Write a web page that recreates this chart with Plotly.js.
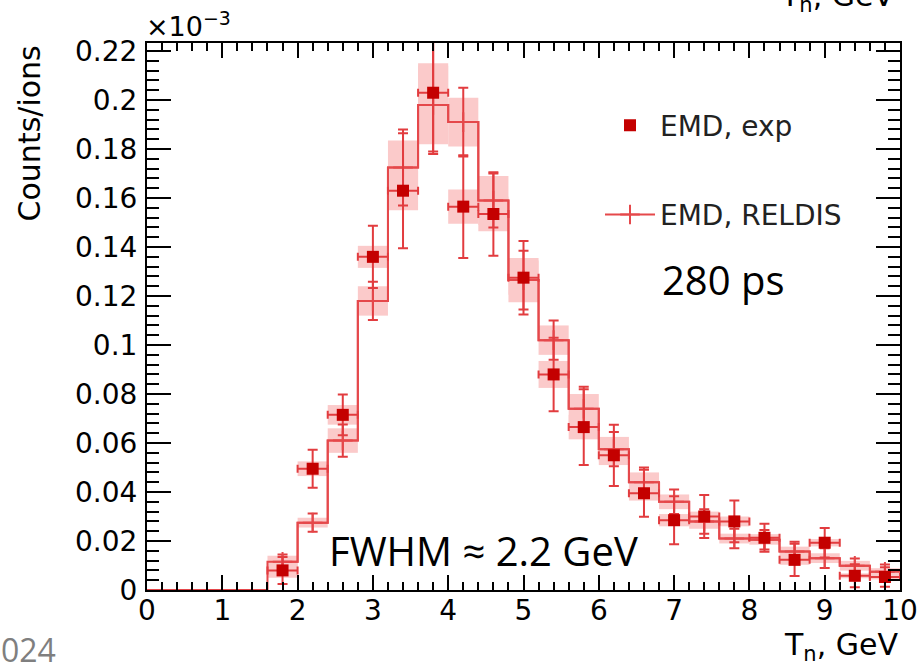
<!DOCTYPE html>
<html>
<head>
<meta charset="utf-8">
<script src="https://cdn.plot.ly/plotly-3.0.1.min.js"></script>
<style>html,body{margin:0;padding:0;background:#fff;}#chart{width:919px;height:665px;}</style>
</head>
<body>
<div id="chart"></div>
<script>
// ---- data (units of 10^-3 counts/ion) ----
const binCenters = [1.8, 2.2, 2.6, 3.0, 3.4, 3.8, 4.2, 4.6, 5.0, 5.4, 5.8, 6.2, 6.6, 7.0, 7.4, 7.8, 8.2, 8.6, 9.0, 9.4, 9.8];
const binEdges = [0, 1.6, 2.0, 2.4, 2.8, 3.2, 3.6, 4.0, 4.4, 4.8, 5.2, 5.6, 6.0, 6.4, 6.8, 7.2, 7.6, 8.0, 8.4, 8.8, 9.2, 9.6, 10];
const binHalfWidth = 0.2;

const expVals = [0.008, 0.0495, 0.0715, 0.136, 0.163, 0.203, 0.1565, 0.1535, 0.1275, 0.088, 0.0665, 0.055, 0.0395, 0.0285, 0.030, 0.028, 0.0213, 0.0123, 0.0193, 0.0058, 0.0053];
const expErr  = [0.0055, 0.0078, 0.0083, 0.0127, 0.0235, 0.024, 0.021, 0.017, 0.015, 0.015, 0.0155, 0.0125, 0.0096, 0.0098, 0.0088, 0.0085, 0.0057, 0.0066, 0.006, 0.0047, 0.004];
const expSys  = [0.003, 0.003, 0.004, 0.0045, 0.008, 0.012, 0.007, 0.007, 0.007, 0.0055, 0.005, 0.004, 0.003, 0.0025, 0.002, 0.002, 0.0015, 0.002, 0.0015, 0.001, 0.001];

const relVals = [0.0115, 0.0275, 0.061, 0.118, 0.1725, 0.198, 0.191, 0.159, 0.1265, 0.102, 0.074, 0.0575, 0.044, 0.036, 0.028, 0.021, 0.0205, 0.0157, 0.013, 0.0099, 0.0074];
const relErrUp   = [0.003, 0.0037, 0.0066, 0.0078, 0.0155, 0.030, 0.014, 0.011, 0.012, 0.008, 0.009, 0.007, 0.006, 0.005, 0.005, 0.004, 0.004, 0.004, 0.004, 0.003, 0.003];
const relErrDown = [0.003, 0.0037, 0.0066, 0.0078, 0.0155, 0.020, 0.014, 0.011, 0.012, 0.008, 0.009, 0.007, 0.006, 0.005, 0.005, 0.004, 0.004, 0.004, 0.004, 0.003, 0.003];
const relSys  = [0.0025, 0.002, 0.005, 0.006, 0.011, 0.016, 0.010, 0.010, 0.009, 0.006, 0.006, 0.005, 0.004, 0.003, 0.003, 0.002, 0.002, 0.002, 0.002, 0.002, 0.0015];

const xTickVals = [0, 1, 2, 3, 4, 5, 6, 7, 8, 9, 10];
const xTickText = ['0', '1', '2', '3', '4', '5', '6', '7', '8', '9', '10'];
const yTickVals = [0, 0.02, 0.04, 0.06, 0.08, 0.1, 0.12, 0.14, 0.16, 0.18, 0.2, 0.22];
const yTickText = ['0', '0.02', '0.04', '0.06', '0.08', '0.1', '0.12', '0.14', '0.16', '0.18', '0.2', '0.22'];

// ---- styles ----
const rootFont = 'DejaVu Sans, Liberation Sans, Arial, sans-serif';
const slideFont = 'Open Sans, Noto Sans, sans-serif';
const boxColor = '#fbcaca';
const relColor = '#e5484b';
const errColor = '#e23c3f';
const expColor = '#c40000';

const stepY = [0].concat(relVals).concat([relVals[relVals.length - 1]]);

const traces = [
  { type: 'bar', x: binCenters, y: relSys.map(s => 2 * s), base: relVals.map((v, i) => v - relSys[i]),
    width: 2 * binHalfWidth, marker: { color: boxColor, line: { width: 0 } }, showlegend: false, hoverinfo: 'skip' },
  { type: 'bar', x: binCenters, y: expSys.map(s => 2 * s), base: expVals.map((v, i) => v - expSys[i]),
    width: 2 * binHalfWidth, marker: { color: boxColor, line: { width: 0 } }, showlegend: false, hoverinfo: 'skip' },
  { type: 'scatter', mode: 'lines', x: binEdges, y: stepY, line: { shape: 'hv', color: relColor, width: 2 },
    showlegend: false, hoverinfo: 'skip' },
  { type: 'scatter', mode: 'lines+markers', name: 'EMD, RELDIS', x: binCenters, y: relVals,
    line: { shape: 'hvh', color: relColor, width: 2 },
    marker: { symbol: 'cross-thin-open', size: 14, color: relColor, line: { color: relColor, width: 2 } },
    error_y: { type: 'data', array: relErrUp, arrayminus: relErrDown, symmetric: false, visible: true,
      color: errColor, thickness: 2, width: 5 },
    legendgroup: 'rel', legendrank: 2 },
  { type: 'scatter', mode: 'markers', name: 'EMD, exp', x: binCenters, y: expVals,
    marker: { symbol: 'square', size: 12, color: expColor },
    error_y: { type: 'data', array: expErr, visible: true, color: errColor, thickness: 2, width: 5 },
    error_x: { type: 'constant', value: binHalfWidth, visible: true, color: errColor, thickness: 2, width: 4 },
    legendgroup: 'exp', legendrank: 1 }
];

const axisCommon = {
  showgrid: false, zeroline: false, showline: true, linecolor: '#000', linewidth: 2,
  mirror: 'allticks', ticks: 'inside', tickcolor: '#000', tickwidth: 2,
  tickfont: { family: rootFont, size: 28, color: '#000' }
};

const layout = {
  width: 919, height: 665,
  margin: { l: 147, r: 19, t: 43, b: 75, pad: 0 },
  paper_bgcolor: '#fff', plot_bgcolor: '#fff',
  barmode: 'overlay',
  showlegend: true,
  legend: { x: 0.6016, xanchor: 'left', y: 0.895, yanchor: 'top', bgcolor: 'rgba(0,0,0,0)',
    font: { family: rootFont, size: 28, color: '#222' }, itemwidth: 50, tracegroupgap: 50,
    traceorder: 'grouped' },
  xaxis: Object.assign({}, axisCommon, {
    range: [0, 10], tickmode: 'array', tickvals: xTickVals, ticktext: xTickText, ticklen: 15,
    ticklabelstandoff: -6,
    minor: { dtick: 0.2, ticks: 'inside', ticklen: 8, tickwidth: 2, tickcolor: '#000' }
  }),
  yaxis: Object.assign({}, axisCommon, {
    range: [0, 0.2233], tickmode: 'array', tickvals: yTickVals, ticktext: yTickText, ticklen: 24,
    ticklabelstandoff: 2,
    minor: { dtick: 0.004, ticks: 'inside', ticklen: 12, tickwidth: 2, tickcolor: '#000' }
  }),
  annotations: [
    { xref: 'paper', yref: 'paper', x: -0.004, y: 0.998, xanchor: 'left', yanchor: 'bottom', showarrow: false,
      text: '×10<sup>−3</sup>', font: { family: rootFont, size: 27, color: '#000' } },
    { xref: 'paper', yref: 'paper', x: -0.182, y: 1.0, xanchor: 'left', yanchor: 'top', showarrow: false,
      textangle: -90, text: 'Counts/ions', font: { family: rootFont, size: 30, color: '#000' } },
    { xref: 'paper', yref: 'paper', x: 1.0, y: -0.064, xanchor: 'right', yanchor: 'top', showarrow: false,
      text: 'T<sub>n</sub>, GeV', font: { family: rootFont, size: 30, color: '#000' } },
    { xref: 'paper', yref: 'paper', x: 0.995, y: 1.123, xanchor: 'right', yanchor: 'top', showarrow: false,
      text: 'T<sub>n</sub>, GeV', font: { family: rootFont, size: 30, color: '#000' } },
    { xref: 'paper', yref: 'paper', x: 0.681, y: 0.567, xanchor: 'left', yanchor: 'middle', showarrow: false,
      text: '280 ps', font: { family: slideFont, size: 40, color: '#000' } },
    { xref: 'paper', yref: 'paper', x: 0.2395, y: 0.0713, xanchor: 'left', yanchor: 'middle', showarrow: false,
      text: 'FWHM ≈ 2.2 GeV', font: { family: slideFont, size: 40, color: '#000' } },
    { xref: 'paper', yref: 'paper', x: -0.1965, y: -0.108, xanchor: 'left', yanchor: 'middle', showarrow: false,
      text: '024', font: { family: slideFont, size: 32, color: '#7f7f7f' } }
  ]
};

Plotly.newPlot('chart', traces, layout, { displayModeBar: false, staticPlot: true });
</script>
</body>
</html>
